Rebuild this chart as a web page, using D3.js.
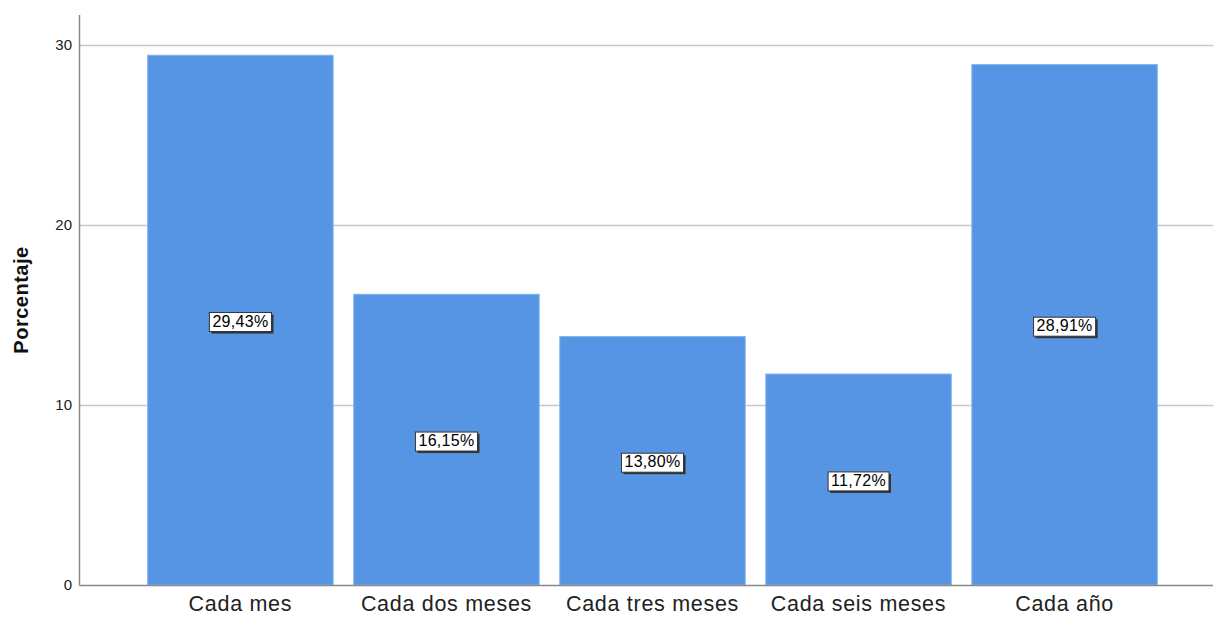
<!DOCTYPE html>
<html><head><meta charset="utf-8">
<script src="https://cdn.jsdelivr.net/npm/d3@7"></script>
<style>body{margin:0;background:#fff;} svg{display:block;}</style>
</head><body>
<svg id="c" width="1213" height="617"></svg>
<script>
const categories = ["Cada mes", "Cada dos meses", "Cada tres meses", "Cada seis meses", "Cada año"];
const values = [29.43, 16.15, 13.80, 11.72, 28.91];
const labels = ["29,43%", "16,15%", "13,80%", "11,72%", "28,91%"];
const yTicks = [0, 10, 20, 30];

const svg = d3.select("#c");
const x0 = 79.5, yTop = 15, yBot = 585.5, xRight = 1213;
const FONT = "Liberation Sans, Arial, sans-serif";
const y = d3.scaleLinear().domain([0, 30]).range([585, 45]);
const x = d3.scaleBand().domain(categories).range([147.7, 1157.3]).paddingInner(0.1).paddingOuter(0);

// gridlines
svg.append("g").selectAll("line").data(yTicks.filter(d => d > 0)).join("line")
  .attr("x1", x0).attr("x2", xRight)
  .attr("y1", d => Math.round(y(d)) + 0.5).attr("y2", d => Math.round(y(d)) + 0.5)
  .attr("stroke", "#c8c8c8").attr("stroke-width", 1.5);

// bars
svg.append("g").selectAll("rect").data(values).join("rect")
  .attr("x", (d, i) => x(categories[i]))
  .attr("y", d => y(d))
  .attr("width", x.bandwidth())
  .attr("height", d => y(0) - y(d))
  .attr("fill", "#5595e3")
  .attr("stroke", "#7fb2f0").attr("stroke-width", 1);

// axes lines
svg.append("line").attr("x1", x0).attr("x2", x0).attr("y1", yTop).attr("y2", yBot)
  .attr("stroke", "#888").attr("stroke-width", 1.5);
svg.append("line").attr("x1", x0).attr("x2", xRight).attr("y1", yBot).attr("y2", yBot)
  .attr("stroke", "#888").attr("stroke-width", 1.5);

// y tick labels
svg.append("g").selectAll("text").data(yTicks).join("text")
  .attr("x", 72).attr("y", d => y(d)).attr("dy", "0.35em")
  .attr("text-anchor", "end")
  .attr("font-family", FONT).attr("font-size", 15).attr("fill", "#222")
  .text(d => d);

// x labels
svg.append("g").selectAll("text").data(categories).join("text")
  .attr("x", d => x(d) + x.bandwidth() / 2).attr("y", 611)
  .attr("text-anchor", "middle")
  .attr("font-family", FONT).attr("font-size", 21.5).attr("letter-spacing", 0.7).attr("fill", "#222")
  .text(d => d);

// y title
svg.append("text")
  .attr("transform", "translate(28,300) rotate(-90)")
  .attr("text-anchor", "middle")
  .attr("font-family", FONT).attr("font-size", 20).attr("font-weight", "bold").attr("letter-spacing", 0.5).attr("fill", "#111")
  .text("Porcentaje");

// value labels
const lg = svg.append("g").selectAll("g").data(values).join("g")
  .attr("transform", (d, i) => `translate(${x(categories[i]) + x.bandwidth() / 2},${y(d / 2)})`);
lg.each(function(d, i) {
  const g = d3.select(this);
  const t = g.append("text").attr("text-anchor", "middle").attr("dy", "0.4em")
    .attr("font-family", FONT).attr("font-size", 16).attr("letter-spacing", 0.3).attr("fill", "#000")
    .text(labels[i]);
  const bb = t.node().getBBox();
  g.insert("rect", "text").attr("x", bb.x - 3 + 2).attr("y", bb.y + 2)
    .attr("width", bb.width + 6).attr("height", bb.height + 2).attr("fill", "#333");
  g.insert("rect", "text").attr("x", bb.x - 3).attr("y", bb.y)
    .attr("width", bb.width + 6).attr("height", bb.height + 2)
    .attr("fill", "#fff").attr("stroke", "#333").attr("stroke-width", 1);
});
</script>
</body></html>
